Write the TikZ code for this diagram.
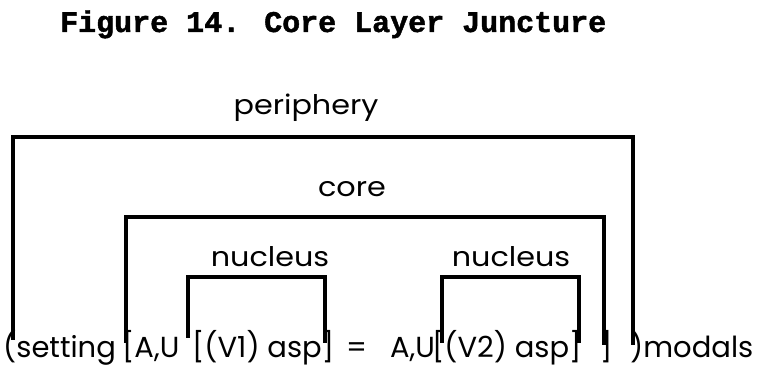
\documentclass[tikz,border=0pt]{standalone}
\usepackage{fontspec}
\newfontfamily\gothic{Poppins}
\newfontfamily\typewr[BoldFeatures={FakeBold=1.5}]{Liberation Mono}
\begin{document}
\begin{tikzpicture}
[x=1pt,y=1pt,bracket/.style={line width=3.5pt,line join=miter},
lbl/.style={font=\gothic\fontsize{27}{29}\selectfont,inner sep=0pt,anchor=base,xscale=1.12,transform shape},
txt/.style={font=\gothic\fontsize{29}{31}\selectfont,inner sep=0pt,anchor=base west},]
\useasboundingbox (0,0) rectangle (780,375);

%Bracket heights
\def\yper{238}
\def\ycore{158}
\def\ynuc{98}

%Title
\node (title) at (60,343)[anchor=base west,inner sep=0pt,font=\typewr\bfseries\fontsize{30}{32}\selectfont] {Figure 14. Core Layer Juncture};

%Labeling layers
\node (per) at (306,260)[lbl] {periphery};
\node (core) at (352,178)[lbl] {core};
\node (nucA) at (270,108)[lbl] {nucleus};
\node (nucB) at (511,108)[lbl] {nucleus};

%Bottom line
\node (setting) at (3,17)[txt] {(setting};
\node (auA) at (122,17)[txt] {[A,U};
\node (vA) at (192,17)[txt] {[(V1) asp]\hspace{12pt}=};
\node (auB) at (390,17)[txt] {A,U};
\node (vB) at (432,17)[txt] {[(V2) asp]};
\node (close) at (600,17)[txt] {]};
\node (modals) at (630,17)[txt] {)modals};

%Corners of brackets
\coordinate (perFL) at (13,35);
\coordinate (perL) at (13,\yper);
\coordinate (perR) at (633,\yper);
\coordinate (perFR) at (633,30);
\coordinate (coreFL) at (126,32);
\coordinate (coreL) at (126,\ycore);
\coordinate (coreR) at (604,\ycore);
\coordinate (coreFR) at (604,30);
\coordinate (nucAFL) at (188,37);
\coordinate (nucAL) at (188,\ynuc);
\coordinate (nucAR) at (325,\ynuc);
\coordinate (nucAFR) at (325,32);
\coordinate (nucBFL) at (442,32);
\coordinate (nucBL) at (442,\ynuc);
\coordinate (nucBR) at (579,\ynuc);
\coordinate (nucBFR) at (579,32);

%Drawing brackets
\draw[bracket] (perFL) -- (perL) -- (perR) -- (perFR);
\draw[bracket] (coreFL) -- (coreL) -- (coreR) -- (coreFR);
\draw[bracket] (nucAFL) -- (nucAL) -- (nucAR) -- (nucAFR);
\draw[bracket] (nucBFL) -- (nucBL) -- (nucBR) -- (nucBFR);

\end{tikzpicture}
\end{document}
